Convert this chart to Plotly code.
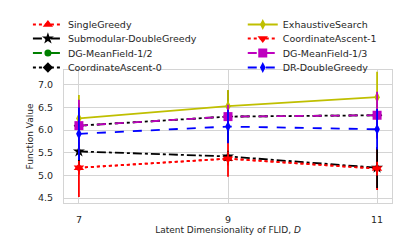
import plotly.graph_objects as go

x_vals = [7, 9, 11]

names = ["SingleGreedy", "Submodular-DoubleGreedy", "DG-MeanField-1/2", "CoordinateAscent-0",
         "ExhaustiveSearch", "CoordinateAscent-1", "DG-MeanField-1/3", "DR-DoubleGreedy"]

single_greedy = [5.17, 5.37, 5.15]
single_greedy_err = [0.65, 0.40, 0.47]
submod_dg = [5.53, 5.42, 5.17]
submod_dg_err = [0.41, 0.08, 0.45]
dg_mf_half = [6.10, 6.30, 6.33]
dg_mf_half_err = [0.50, 0.40, 0.40]
coord_asc0 = [6.10, 6.30, 6.33]
coord_asc0_err = [0.50, 0.58, 0.50]
exhaustive = [6.26, 6.53, 6.73]
exhaustive_err = [0.52, 0.36, 0.56]
coord_asc1 = [5.17, 5.37, 5.15]
coord_asc1_err = [0.15, 0.15, 0.15]
dg_mf_third = [6.10, 6.30, 6.33]
dg_mf_third_err = [0.57, 0.26, 0.52]
dr_dg = [5.92, 6.08, 6.02]
dr_dg_err = [0.58, 0.37, 0.45]

series = [
    (names[0], single_greedy, single_greedy_err, "#ff0000", "dot", "triangle-up", 9),
    (names[1], submod_dg, submod_dg_err, "#000000", "dashdot", "star", 9),
    (names[2], dg_mf_half, dg_mf_half_err, "#008000", "dash", "circle", 7),
    (names[3], coord_asc0, coord_asc0_err, "#000000", "dot", "diamond", 8),
    (names[4], exhaustive, exhaustive_err, "#bfbf00", "solid", "diamond-tall", 8),
    (names[5], coord_asc1, coord_asc1_err, "#ff0000", "dot", "triangle-down", 9),
    (names[6], dg_mf_third, dg_mf_third_err, "#bf00bf", "dash", "square", 9),
    (names[7], dr_dg, dr_dg_err, "#0000ff", "dash", "diamond-tall", 8),
]

# plot area geometry (pixels) used to place the legend rows
top_px, bottom_px = 70, 203
row_px = [24.5, 38.5, 53, 67.5]
col_x = [-0.11, 0.545]

font = dict(family="DejaVu Sans", size=9.5, color="#262626")

fig = go.Figure()
layout_legends = {}
for i, (name, y, err, color, dash, sym, size) in enumerate(series):
    key = f"legend{i + 2}"
    fig.add_trace(go.Scatter(
        x=x_vals, y=y, name=name, mode="lines+markers",
        line=dict(color=color, dash=dash, width=1.8),
        marker=dict(symbol=sym, size=size, color=color, line=dict(width=0)),
        error_y=dict(type="data", array=err, color=color, thickness=1.8, width=0),
        legend=key,
    ))
    col, row = divmod(i, 4)
    layout_legends[key] = dict(
        x=col_x[col], y=(bottom_px - row_px[row]) / (bottom_px - top_px),
        xanchor="left", yanchor="middle", bgcolor="rgba(255,255,255,0)",
        font=font, itemwidth=30,
    )

fig.update_layout(
    width=400, height=240,
    margin=dict(l=64, r=8, t=top_px, b=240 - bottom_px, autoexpand=False),
    paper_bgcolor="white", plot_bgcolor="white",
    font=font,
    xaxis=dict(
        range=[6.8, 11.2], tickvals=x_vals, ticktext=["7", "9", "11"],
        showgrid=True, gridcolor="#d4d4d4", gridwidth=1,
        showline=True, linecolor="#d4d4d4", linewidth=1, mirror=True,
        zeroline=False, ticks="", ticklabelstandoff=8,
        title=dict(text="Latent Dimensionality of FLID, <i>D</i>", font=dict(size=9), standoff=2),
    ),
    yaxis=dict(
        range=[4.39, 7.33], tickvals=[4.5, 5.0, 5.5, 6.0, 6.5, 7.0],
        ticktext=["4.5", "5.0", "5.5", "6.0", "6.5", "7.0"],
        showgrid=True, gridcolor="#d4d4d4", gridwidth=1,
        showline=True, linecolor="#d4d4d4", linewidth=1, mirror=True,
        zeroline=False, ticks="", ticklabelstandoff=8,
        title=dict(text="Function Value", font=dict(size=9), standoff=2),
    ),
    **layout_legends,
)

fig.write_html("out.html", config={"displayModeBar": False},
               post_script="document.body.style.margin='0';")
